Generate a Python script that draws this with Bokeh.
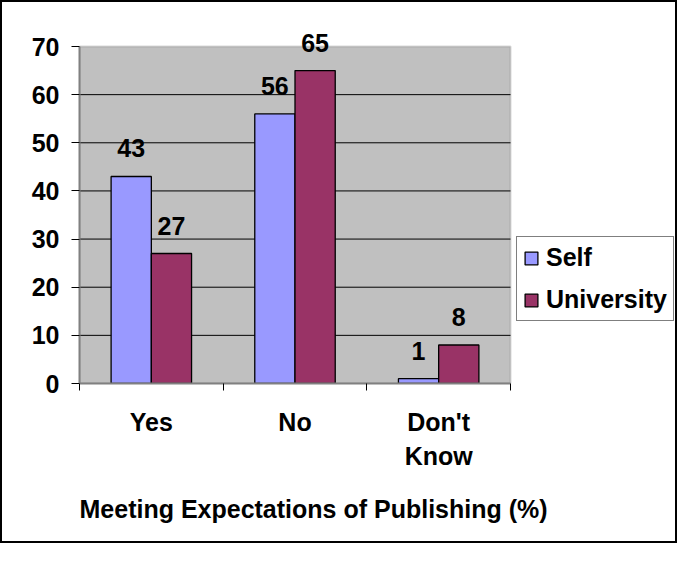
from bokeh.plotting import figure
from bokeh.models import (Range1d, FixedTicker, ColumnDataSource, LabelSet, Legend,
                          LegendItem, Title, BoxAnnotation)
from bokeh.core.properties import value
from bokeh.transform import dodge
from bokeh.embed import file_html
from bokeh.resources import INLINE

# ---- data ----
categories = ["Yes", "No", "Don't\nKnow"]
self_values = [43, 56, 1]
university_values = [27, 65, 8]
series_names = ["Self", "University"]
y_ticks = [0, 10, 20, 30, 40, 50, 60, 70]
title_text = "Meeting Expectations of Publishing (%)"

FONT = "Liberation Sans"
FS = "25px"

# layout (pixels)
W, H = 677, 543
FRAME_L, FRAME_R_PLOT, FRAME_R = 77, 508, 675     # plot area spans FRAME_L..FRAME_R_PLOT
FRAME_T, FRAME_B, PLOT_T = 20, 381, 44
n = len(categories)
x_view_right = n * (FRAME_R - FRAME_L) / (FRAME_R_PLOT - FRAME_L)
y_view_top = y_ticks[-1] * (FRAME_B - FRAME_T) / (FRAME_B - PLOT_T)

positions = [i + 0.5 for i in range(n)]
source = ColumnDataSource(dict(
    pos=positions,
    self=self_values,
    univ=university_values,
    self_lbl=[str(v) for v in self_values],
    univ_lbl=[str(v) for v in university_values],
))
grid_src = ColumnDataSource(dict(
    y=y_ticks[1:-1],
    x0=[0] * (len(y_ticks) - 2),
    x1=[n] * (len(y_ticks) - 2),
))

p = figure(width=W, height=H, output_backend="svg", toolbar_location=None,
           x_range=Range1d(0, x_view_right), y_range=Range1d(0, y_view_top),
           min_border_left=FRAME_L, min_border_right=W - FRAME_R,
           min_border_top=FRAME_T, min_border_bottom=H - FRAME_B,
           background_fill_color="white", border_fill_color="white",
           outline_line_color=None,
           styles={"border": "2px solid black"})

# grey plot area
p.add_layout(BoxAnnotation(left=0, right=n, bottom=0, top=y_ticks[-1],
                           fill_color="#C0C0C0", fill_alpha=1,
                           line_color="#808080", line_width=2, level="image"))
# horizontal gridlines, limited to the plot area
p.segment(x0="x0", x1="x1", y0="y", y1="y", source=grid_src,
          line_color="black", line_width=1, level="underlay")

r1 = p.vbar(x=dodge("pos", -0.14, range=p.x_range), top="self", width=0.28,
            source=source, fill_color="#9999FF", line_color="black", line_width=1.3)
r2 = p.vbar(x=dodge("pos", 0.14, range=p.x_range), top="univ", width=0.28,
            source=source, fill_color="#993366", line_color="black", line_width=1.3)

for col, lbl, off in (("self", "self_lbl", -0.14), ("univ", "univ_lbl", 0.14)):
    p.add_layout(LabelSet(x=dodge("pos", off, range=p.x_range), y=col, text=lbl,
                          source=source, text_align="center",
                          text_baseline="alphabetic", y_offset=19,
                          text_font=value(FONT), text_font_style="bold",
                          text_font_size=value(FS), text_color="black"))

# axes
xa = p.xaxis[0]
xa.ticker = FixedTicker(ticks=positions, minor_ticks=list(range(n + 1)))
xa.bounds = (0, n)
xa.major_label_overrides = {pos: cat for pos, cat in zip(positions, categories)}
xa.major_tick_out = 0
xa.major_tick_in = 0
xa.minor_tick_out = 7
xa.minor_tick_in = 0
xa.minor_tick_line_color = "black"
xa.axis_line_color = "#808080"
xa.axis_line_width = 2
xa.major_label_standoff = 17
xa.major_label_text_font = FONT
xa.major_label_text_font_style = "bold"
xa.major_label_text_font_size = FS
xa.major_label_text_color = "black"
xa.major_label_text_line_height = 1.22

ya = p.yaxis[0]
ya.ticker = FixedTicker(ticks=y_ticks)
ya.bounds = (y_ticks[0], y_ticks[-1])
ya.major_tick_out = 8
ya.major_tick_in = 0
ya.minor_tick_out = 0
ya.minor_tick_in = 0
ya.major_tick_line_color = "black"
ya.axis_line_color = "#808080"
ya.axis_line_width = 2
ya.major_label_standoff = 12
ya.major_label_text_font = FONT
ya.major_label_text_font_style = "bold"
ya.major_label_text_font_size = FS
ya.major_label_text_color = "black"

p.grid.visible = False

legend = Legend(items=[LegendItem(label=series_names[0], renderers=[r1]),
                       LegendItem(label=series_names[1], renderers=[r2])],
                location=(437, 62), margin=0, padding=6, spacing=13,
                glyph_width=16, glyph_height=16, label_standoff=7,
                label_text_font=FONT, label_text_font_style="bold",
                label_text_font_size=FS, label_text_color="black",
                border_line_color="black", border_line_width=1.3,
                background_fill_color="white", background_fill_alpha=1)
p.add_layout(legend, "center")

p.add_layout(Title(text=title_text, align="left", standoff=41,
                   text_font=FONT, text_font_style="bold", text_font_size=FS,
                   text_color="black"), "below")

open("out.html", "w").write(file_html(p, INLINE))
